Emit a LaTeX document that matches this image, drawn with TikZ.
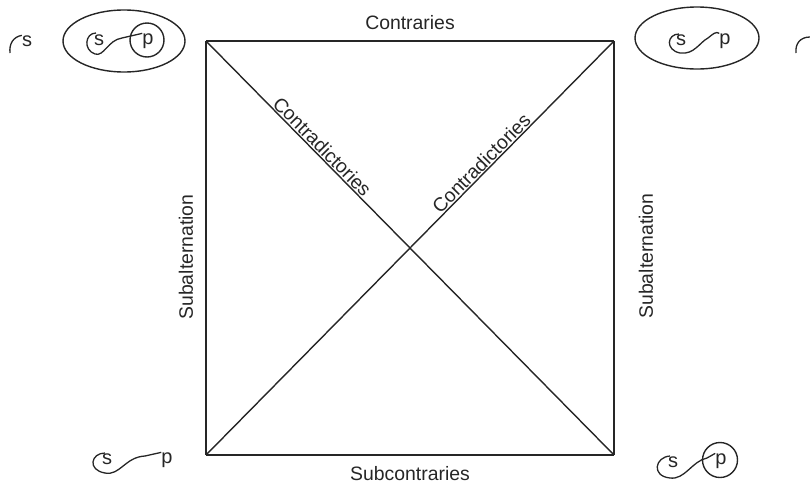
\documentclass[tikz,border=0pt]{standalone}
\usepackage{fontspec}
\setmainfont{Liberation Sans}
\usetikzlibrary{shapes.geometric}
\begin{document}
\begin{tikzpicture}[x=1pt,y=-1pt,
  edge/.style={line width=1.4pt, black!85},
  lbl/.style={font=\fontsize{19.4}{21}\selectfont, inner sep=2pt, text=black!85},
  let/.style={font=\fontsize{20}{21}\selectfont, inner sep=0pt, text=black!85},
  curl/.style={line width=1.3pt, black!85},
  ring/.style={line width=1.4pt, black!85}]
\useasboundingbox (0,0) rectangle (810,496);
% corners
\coordinate (tl) at (206,41);
\coordinate (tr) at (614,41);
\coordinate (bl) at (206,455);
\coordinate (br) at (614,455);
% square
\draw[edge] (tl) -- node[lbl, above=9pt] {Contraries} (tr);
\draw[edge] (bl) -- node[lbl, below=9pt] {Subcontraries} (br);
\draw[edge] (tl) -- (bl);
\draw[edge] (tr) -- (br);
\node[lbl, rotate=90] (sa1) at (186,257) {Subalternation};
\node[lbl, rotate=90] (sa2) at (646,256) {Subalternation};
% diagonals
\draw[edge] (tl) -- node[lbl, pos=0.27, rotate=-45.4, anchor=south, inner sep=1pt] {Contradictories} (br);
\draw[edge] (bl) -- node[lbl, pos=0.69, rotate=45.4, anchor=south, inner sep=1pt] {Contradictories} (tr);

% top-left: ellipse with s-p inside, p circled
\node[ring, draw, ellipse, minimum width=122pt, minimum height=62pt, inner sep=0pt] (e1) at (124,41) {};
\node[ring, draw, circle, minimum size=34pt, inner sep=0pt] (c1) at (147,40) {};
\node[let] (s1) at (99,40) {s};
\node[let] (p1) at (148,41) {p};
\draw[curl] (96,33) .. controls (85,33) and (83,50) .. (95,54)
  .. controls (104,57) and (108,40) .. (122,38) -- (p1.north west);

% top-right: ellipse with s-p inside
\node[ring, draw, ellipse, minimum width=124pt, minimum height=62pt, inner sep=0pt] (e2) at (697,38) {};
\node[let] (s2) at (681,40) {s};
\node[let] (p2) at (725,41) {p};
\draw[curl] (679,34) .. controls (667,34) and (665,50) .. (680,53)
  .. controls (694,55) and (700,42) .. (708,38)
  .. controls (713,34) and (716,31) .. (p2.north west);

% top-left hook
\node[let] (s0) at (27,41) {s};
\draw[curl] (10,53) .. controls (9,44) and (13,37) .. (s0.north west);
% top-right hook (cut off)
\coordinate (h0) at (810,37);
\draw[curl] (796,53) .. controls (795,44) and (800,37) .. (h0);

% bottom-left: s-p
\node[let] (s3) at (107,459) {s};
\node[let] (p3) at (167,460) {p};
\draw[curl] (105,453) .. controls (91,453) and (87,470) .. (105,473)
  .. controls (120,476) and (125,457) .. (145,456) -- (p3.north west);

% bottom-right: s-p with p circled
\node[let] (s4) at (673,462) {s};
\node[let] (p4) at (721,461) {p};
\node[ring, draw, circle, minimum size=35pt, inner sep=0pt] (c4) at (720,460) {};
\draw[curl] (670,456) .. controls (655,457) and (651,476) .. (670,478)
  .. controls (685,480) and (692,461) .. (707,458) -- (p4.north west);
\end{tikzpicture}
\end{document}
